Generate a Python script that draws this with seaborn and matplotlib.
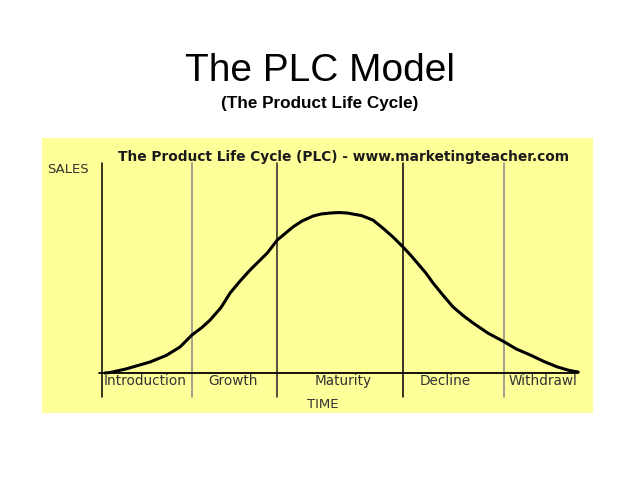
import numpy as np
import pandas as pd
import matplotlib.pyplot as plt
import seaborn as sns

# curve (time 0-100, sales 0-100)
time = [0.6, 1.7, 5.0, 10.1, 13.5, 16.4, 18.9, 21.0, 22.7, 25.0, 26.9, 29.0, 31.1,
        33.0, 34.7, 36.8, 40.1, 42.0, 44.3, 46.0, 47.9, 49.7, 51.5, 54.5, 56.9,
        59.0, 61.1, 63.2, 64.7, 66.2, 68.0, 69.5, 71.5, 73.7, 75.8, 77.9, 81.0,
        84.5, 87.0, 89.9, 92.8, 95.6, 98.0, 100.0]
sales = [0.0, 0.3, 2.5, 6.9, 11.0, 16.3, 23.8, 28.5, 33.1, 41.0, 50.0, 57.5, 64.4,
         70.0, 75.0, 83.1, 91.3, 95.0, 98.1, 99.4, 100.0, 100.3, 100.0, 98.4, 95.6,
         90.5, 85.0, 78.8, 74.0, 68.8, 62.5, 56.3, 49.0, 41.3, 36.0, 31.3, 25.0,
         19.4, 15.0, 11.3, 7.2, 3.8, 1.7, 0.6]

stages = ["Introduction", "Growth", "Maturity", "Decline", "Withdrawl"]
stage_edges = [0.0, 18.9, 36.8, 63.2, 84.5, 100.0]
stage_label_x = [9.0, 27.5, 50.7, 72.0, 92.5]
edge_colors = ["black", "#888888", "#222222", "black", "#888888"]

df = pd.DataFrame({"time": time, "sales": sales})

sns.set_style("white")
fig = plt.figure(figsize=(6.4, 4.8), dpi=100)
fig.patch.set_facecolor("white")

fig.text(0.5, 0.852, "The PLC Model", ha="center", va="center",
         fontsize=28, family="Liberation Sans", color="black")
fig.text(0.5, 0.785, "(The Product Life Cycle)", ha="center", va="center",
         fontsize=12.3, fontweight="bold", family="Liberation Sans", color="black")

ax = fig.add_axes([42 / 640, 67 / 480, 551 / 640, 275 / 480])
ax.set_facecolor("#FFFF99")
ax.set_xlim(-12.6, 103.1)
ax.set_ylim(-25, 146.9)
for s in ax.spines.values():
    s.set_visible(False)
ax.set_xticks([])
ax.set_yticks([])

# stage boundaries
for x, c in zip(stage_edges[:-1], edge_colors):
    ax.plot([x, x], [-15, 131], color=c, lw=1.1)

# time axis
ax.plot([-0.6, 100.0], [0, 0], color="black", lw=1.3)

sns.lineplot(data=df, x="time", y="sales", ax=ax, color="black", lw=2.2, sort=False)
ax.set_xlabel("")
ax.set_ylabel("")

ax.text(50.8, 135, "The Product Life Cycle (PLC) - www.marketingteacher.com",
        ha="center", va="center", fontsize=9.9, fontweight="bold", color="#1a1a1a")
ax.text(-11.5, 127.5, "SALES", ha="left", va="center", fontsize=9.5, color="#333333")
for lbl, x in zip(stages, stage_label_x):
    ax.text(x, -5, lbl, ha="center", va="center", fontsize=9.8, color="#333333")
ax.text(46.3, -19.5, "TIME", ha="center", va="center", fontsize=9.5, color="#333333")

fig.savefig("out.png", dpi=100)
